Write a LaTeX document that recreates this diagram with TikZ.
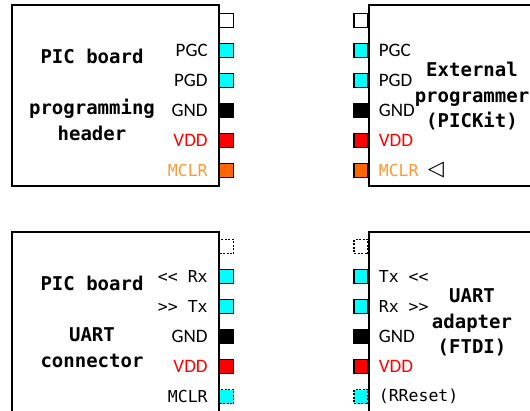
\documentclass[tikz,border=0pt]{standalone}
\usepackage{fontspec}
\setmainfont{Carlito}
\setmonofont{DejaVu Sans Mono}
\newfontfamily\symfont{DejaVu Sans}
\usetikzlibrary{positioning}

\definecolor{pincyan}{RGB}{0,255,255}
\definecolor{pinred}{RGB}{255,0,0}
\definecolor{pinorange}{RGB}{255,102,0}
\definecolor{mclrorange}{RGB}{255,153,51}

\tikzset{
  board/.style={draw=black, line width=1.5pt},
  pinsq/.style={draw=black, line width=1.3pt, minimum width=14pt, minimum height=14pt, inner sep=0pt},
  nopin/.style={pinsq, dash pattern=on 2pt off 1.5pt},
  title/.style={font=\fontsize{19}{25.5}\selectfont\ttfamily\bfseries, align=center},
  plabel/.style={font=\fontsize{19}{22}\selectfont, inner sep=0pt},
  mlabel/.style={font=\fontsize{16.5}{20}\selectfont\ttfamily, inner sep=0pt},
}

\begin{document}
\begin{tikzpicture}[x=1pt, y=-1pt]
  % Frame of the picture
  \useasboundingbox (0,0) rectangle (530,410);
  \clip (0,0) rectangle (530,410);

  % Define board corners
  \coordinate (pbTL) at (12,5);     % PIC board, programming header
  \coordinate (pbBR) at (219,186);
  \coordinate (exTL) at (369,5);    % External programmer
  \coordinate (exBR) at (560,186);
  \coordinate (ubTL) at (12,232);   % PIC board, UART connector
  \coordinate (ubBR) at (219,440);
  \coordinate (uaTL) at (369,232);  % UART adapter
  \coordinate (uaBR) at (560,440);

  % Draw the four boards
  \draw[board] (pbTL) rectangle (pbBR);
  \draw[board] (exTL) rectangle (exBR);
  \draw[board] (ubTL) rectangle (ubBR);
  \draw[board] (uaTL) rectangle (uaBR);

  % Board titles
  \node[title] (pbtitle) at (92,95) {PIC board\\ \\programming\\header};
  \node[title] (extitle) at (472,96.5) {External\\programmer\\(PICKit)};
  \node[title] (ubtitle) at (92,322) {PIC board\\ \\UART\\connector};
  \node[title] (uatitle) at (472,322.5) {UART\\adapter\\(FTDI)};

  % Pins of the programming header
  \node[pinsq, fill=white]      (pbnc)   at (226.5,20.5) {};
  \node[pinsq, fill=pincyan]    (pbpgc)  at (226.5,50.5) {};
  \node[pinsq, fill=pincyan]    (pbpgd)  at (226.5,80.5) {};
  \node[pinsq, fill=black]      (pbgnd)  at (226.5,110.5) {};
  \node[pinsq, fill=pinred]     (pbvdd)  at (226.5,140.5) {};
  \node[pinsq, fill=pinorange]  (pbmclr) at (226.5,170.5) {};

  % Pins of the external programmer
  \node[pinsq, fill=white]      (exnc)   at (361,20.5) {};
  \node[pinsq, fill=pincyan]    (expgc)  at (361,50.5) {};
  \node[pinsq, fill=pincyan]    (expgd)  at (361,80.5) {};
  \node[pinsq, fill=black]      (exgnd)  at (361,110.5) {};
  \node[pinsq, fill=pinred]     (exvdd)  at (361,140.5) {};
  \node[pinsq, fill=pinorange]  (exmclr) at (361,170.5) {};

  % Pins of the UART connector
  \node[nopin, fill=white]      (ubnc)   at (226.5,246.5) {};
  \node[pinsq, fill=pincyan]    (ubrx)   at (226.5,276.5) {};
  \node[pinsq, fill=pincyan]    (ubtx)   at (226.5,306.5) {};
  \node[pinsq, fill=black]      (ubgnd)  at (226.5,336.5) {};
  \node[pinsq, fill=pinred]     (ubvdd)  at (226.5,366.5) {};
  \node[nopin, fill=pincyan]    (ubmclr) at (226.5,396.5) {};

  % Pins of the UART adapter
  \node[nopin, fill=white]      (uanc)   at (361,246.5) {};
  \node[pinsq, fill=pincyan]    (uatx)   at (361,276.5) {};
  \node[pinsq, fill=pincyan]    (uarx)   at (361,306.5) {};
  \node[pinsq, fill=black]      (uagnd)  at (361,336.5) {};
  \node[pinsq, fill=pinred]     (uavdd)  at (361,366.5) {};
  \node[nopin, fill=pincyan]    (uarst)  at (361,396.5) {};

  % Labels of the programming header
  \node[plabel, left=11pt of pbpgc] {PGC};
  \node[plabel, left=11pt of pbpgd] {PGD};
  \node[plabel, left=11pt of pbgnd] {GND};
  \node[plabel, left=11pt of pbvdd, pinred] {VDD};
  \node[mlabel, left=11pt of pbmclr, mclrorange] {MCLR};

  % Labels of the external programmer
  \node[plabel, right=10pt of expgc] {PGC};
  \node[plabel, right=10pt of expgd] {PGD};
  \node[plabel, right=10pt of exgnd] {GND};
  \node[plabel, right=10pt of exvdd, pinred] {VDD};
  \node[mlabel, right=10pt of exmclr, mclrorange] (exmclrlab) {MCLR};
  \node[plabel, right=9pt of exmclrlab, font=\fontsize{21}{24}\selectfont\symfont] {◁};

  % Labels of the UART connector
  \node[mlabel, left=11pt of ubrx] {<< Rx};
  \node[mlabel, left=11pt of ubtx] {>> Tx};
  \node[plabel, left=11pt of ubgnd] {GND};
  \node[plabel, left=11pt of ubvdd, pinred] {VDD};
  \node[mlabel, left=11pt of ubmclr] {MCLR};

  % Labels of the UART adapter
  \node[mlabel, right=10pt of uatx] {Tx <<};
  \node[mlabel, right=10pt of uarx] {Rx >>};
  \node[plabel, right=10pt of uagnd] {GND};
  \node[plabel, right=10pt of uavdd, pinred] {VDD};
  \node[mlabel, right=10pt of uarst] {(RReset)};

\end{tikzpicture}
\end{document}
